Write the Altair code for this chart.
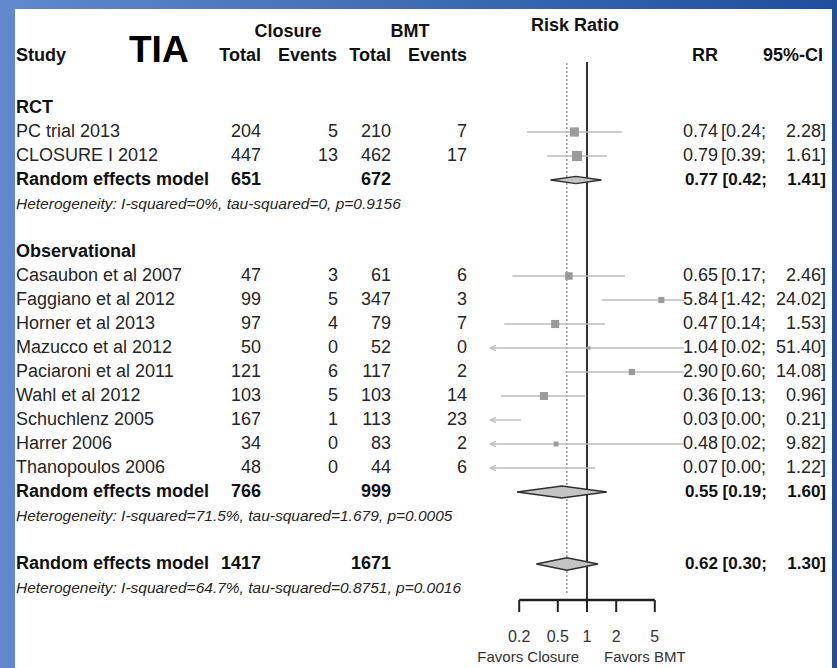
import altair as alt
import pandas as pd

# ---------------- study-level data ----------------
study = ["PC trial 2013", "CLOSURE I 2012",
         "Casaubon et al 2007", "Faggiano et al 2012", "Horner et al 2013",
         "Mazucco et al 2012", "Paciaroni et al 2011", "Wahl et al 2012",
         "Schuchlenz 2005", "Harrer 2006", "Thanopoulos 2006"]
design = ["RCT", "RCT"] + ["Observational"] * 9
closure_total = [204, 447, 47, 99, 97, 50, 121, 103, 167, 34, 48]
closure_events = [5, 13, 3, 5, 4, 0, 6, 5, 1, 0, 0]
bmt_total = [210, 462, 61, 347, 79, 52, 117, 103, 113, 83, 44]
bmt_events = [7, 17, 6, 3, 7, 0, 2, 14, 23, 2, 6]
rr = [0.74, 0.79, 0.65, 5.84, 0.47, 1.04, 2.90, 0.36, 0.03, 0.48, 0.07]
ci_low = [0.24, 0.39, 0.17, 1.42, 0.14, 0.02, 0.60, 0.13, 0.00, 0.02, 0.00]
ci_high = [2.28, 1.61, 2.46, 24.02, 1.53, 51.40, 14.08, 0.96, 0.21, 9.82, 1.22]
weight = [15.5, 19.0, 10.5, 7.0, 12.0, 2.0, 7.0, 12.0, 6.5, 4.5, 4.0]  # % weight (box area)

# ---------------- pooled estimates ----------------
groups = ["RCT", "Observational"]
pooled_closure_total = [651, 766, 1417]
pooled_bmt_total = [672, 999, 1671]
pooled_rr = [0.77, 0.55, 0.62]
pooled_low = [0.42, 0.19, 0.30]
pooled_high = [1.41, 1.60, 1.30]
heterogeneity = [
    "Heterogeneity: I-squared=0%, tau-squared=0, p=0.9156",
    "Heterogeneity: I-squared=71.5%, tau-squared=1.679, p=0.0005",
    "Heterogeneity: I-squared=64.7%, tau-squared=0.8751, p=0.0016",
]
axis_ticks = [0.2, 0.5, 1, 2, 5]
null_effect = [1.0]

X_MIN, X_MAX = 0.1, 10.0
FONT = "Liberation Sans"
TXT = "#262626"
BOLD_TXT = "#111111"
LINE_GREY = "#bdbdbd"
BOX_GREY = "#9b9b9b"
FS = 18
FS_BOLD_NUM = 17


def fmt(v):
    return f"{v:.2f}"


# ---------------- assemble table rows ----------------
rows = []
r = 0
for gi, g in enumerate(groups):
    rows.append(dict(row=r, label=g, kind="heading"))
    r += 1
    for i, s in enumerate(study):
        if design[i] != g:
            continue
        rows.append(dict(row=r, label=s, kind="study",
                         ctot=str(closure_total[i]), cev=str(closure_events[i]),
                         btot=str(bmt_total[i]), bev=str(bmt_events[i]),
                         rr_t=fmt(rr[i]), lo_t="[" + fmt(ci_low[i]) + ";",
                         hi_t=fmt(ci_high[i]) + "]",
                         est=rr[i], low=ci_low[i], high=ci_high[i], w=weight[i]))
        r += 1
    rows.append(dict(row=r, label="Random effects model", kind="pooled",
                     ctot=str(pooled_closure_total[gi]), btot=str(pooled_bmt_total[gi]),
                     rr_t=fmt(pooled_rr[gi]), lo_t="[" + fmt(pooled_low[gi]) + ";",
                     hi_t=fmt(pooled_high[gi]) + "]",
                     est=pooled_rr[gi], low=pooled_low[gi], high=pooled_high[gi]))
    r += 1
    rows.append(dict(row=r, label=heterogeneity[gi], kind="het"))
    r += 2
rows.append(dict(row=r, label="Random effects model", kind="pooled",
                 ctot=str(pooled_closure_total[2]), btot=str(pooled_bmt_total[2]),
                 rr_t=fmt(pooled_rr[2]), lo_t="[" + fmt(pooled_low[2]) + ";",
                 hi_t=fmt(pooled_high[2]) + "]",
                 est=pooled_rr[2], low=pooled_low[2], high=pooled_high[2]))
r += 1
rows.append(dict(row=r, label=heterogeneity[2], kind="het"))

table = pd.DataFrame(rows)
for c in ["ctot", "cev", "btot", "bev", "rr_t", "lo_t", "hi_t"]:
    table[c] = table[c].fillna("")
table["low_c"] = table["low"].clip(X_MIN, X_MAX)
table["high_c"] = table["high"].clip(X_MIN, X_MAX)

studies = table[table.kind == "study"].copy()
inside = studies[(studies.est >= X_MIN) & (studies.est <= X_MAX)]
left_cut = studies[studies.low < X_MIN].assign(edge=X_MIN)

# diamonds for pooled rows: closed outline lo -> top -> hi -> bottom -> lo
pooled_rows = table[table.kind == "pooled"].reset_index(drop=True)
half_h = [0.15, 0.25, 0.26]  # half height of each diamond, in rows
dia = []
for k, p in pooled_rows.iterrows():
    corners = [(p["low"], 0.0), (p["est"], -half_h[k]), (p["high"], 0.0),
               (p["est"], half_h[k]), (p["low"], 0.0)]
    for seq, (xv, dy) in enumerate(corners):
        dia.append(dict(dmd=k, seq=seq, dx=xv, drow=p["row"] + dy))
diamonds = pd.DataFrame(dia)

# ---------------- scales ----------------
x_scale = alt.Scale(type="log", domain=[X_MIN, X_MAX], range=[490, 684])
y_scale = alt.Scale(domain=[0, 20], range=[108, 588], zero=False, nice=False)
one = pd.DataFrame({"k": [0]})


def label(txt, x, y, size=FS, bold=True, align="left", color=BOLD_TXT, italic=False):
    return alt.Chart(one).mark_text(
        text=txt, align=align, baseline="middle", font=FONT, fontSize=size,
        fontWeight="bold" if bold else "normal",
        fontStyle="italic" if italic else "normal", color=color,
    ).encode(x=alt.value(x), y=alt.value(y))


def column(field, x, kinds, bold=False, align="right", size=FS, italic=False):
    return alt.Chart(table).transform_filter(
        alt.FieldOneOfPredicate(field="kind", oneOf=kinds)
    ).mark_text(
        align=align, baseline="middle", font=FONT, fontSize=size,
        fontWeight="bold" if bold else "normal",
        fontStyle="italic" if italic else "normal",
        color=BOLD_TXT if bold else TXT,
    ).encode(
        x=alt.value(x),
        y=alt.Y("row:Q", scale=y_scale, axis=None),
        text=alt.Text(f"{field}:N"),
    )


# ---------------- background frame ----------------
frame = alt.Chart(one).mark_rect(
    color=alt.Gradient(gradient="linear",
                       stops=[alt.GradientStop(color="#6189cc", offset=0),
                              alt.GradientStop(color="#1f4e9c", offset=1)],
                       x1=0, x2=1, y1=0, y2=0)
).encode(x=alt.value(0), x2=alt.value(837), y=alt.value(0), y2=alt.value(668))
panel = alt.Chart(one).mark_rect(color="white").encode(
    x=alt.value(15), x2=alt.value(832), y=alt.value(9), y2=alt.value(668))

# ---------------- headers ----------------
headers = [
    label("Study", 16, 56),
    label("TIA", 129, 51, size=37, color="#000000"),
    label("Closure", 288, 32, align="center"),
    label("BMT", 410, 32, align="center"),
    label("Total", 261, 56, align="right"),
    label("Events", 337, 56, align="right"),
    label("Total", 391, 56, align="right"),
    label("Events", 467, 56, align="right"),
    label("Risk Ratio", 575, 26, align="center"),
    label("RR", 718, 56, align="right"),
    label("95%-CI", 823, 56, align="right"),
]

# ---------------- text columns ----------------
texts = [
    column("label", 16, ["study"], align="left"),
    column("label", 16, ["heading", "pooled"], bold=True, align="left"),
    column("label", 16, ["het"], align="left", size=15.5, italic=True),
    column("ctot", 261, ["study"]),
    column("ctot", 261, ["pooled"], bold=True),
    column("cev", 338, ["study"]),
    column("btot", 391, ["study"]),
    column("btot", 391, ["pooled"], bold=True),
    column("bev", 467, ["study"]),
    column("rr_t", 718, ["study"]),
    column("rr_t", 718, ["pooled"], bold=True, size=FS_BOLD_NUM),
    column("lo_t", 766, ["study"]),
    column("lo_t", 767, ["pooled"], bold=True, size=FS_BOLD_NUM),
    column("hi_t", 826, ["study"]),
    column("hi_t", 826, ["pooled"], bold=True, size=FS_BOLD_NUM),
]

# ---------------- forest plot ----------------
ci_lines = alt.Chart(studies).mark_rule(color=LINE_GREY, strokeWidth=1.4).encode(
    x=alt.X("low_c:Q", scale=x_scale, axis=None),
    x2="high_c:Q",
    y=alt.Y("row:Q", scale=y_scale, axis=None),
)
arrow_l = alt.Chart(left_cut).mark_point(
    shape="M0,0L2,-0.9M0,0L2,0.9", filled=False, color=LINE_GREY,
    strokeWidth=1.3, size=36, opacity=1,
).encode(x=alt.X("edge:Q", scale=x_scale, axis=None),
         y=alt.Y("row:Q", scale=y_scale, axis=None))
boxes = alt.Chart(inside).mark_point(
    shape="square", filled=True, color=BOX_GREY, opacity=1,
).encode(
    x=alt.X("est:Q", scale=x_scale, axis=None),
    y=alt.Y("row:Q", scale=y_scale, axis=None),
    size=alt.Size("w:Q", scale=alt.Scale(domain=[0, 100], range=[0, 543]), legend=None),
)
diamond_marks = alt.Chart(diamonds).mark_line(
    fill="#c4c4c4", stroke="#2e2e2e", strokeWidth=1.3, interpolate="linear",
).encode(
    x=alt.X("dx:Q", scale=x_scale, axis=None),
    y=alt.Y("drow:Q", scale=y_scale, axis=None),
    detail="dmd:N",
    order="seq:Q",
)

ref_df = pd.DataFrame({"v": null_effect})
ref_line = alt.Chart(ref_df).mark_rule(color="#333333", strokeWidth=2).encode(
    x=alt.X("v:Q", scale=x_scale, axis=None), y=alt.value(62), y2=alt.value(600))
overall_df = pd.DataFrame({"v": [pooled_rr[2]]})
overall_line = alt.Chart(overall_df).mark_rule(
    color="#808080", strokeWidth=1.2, strokeDash=[2, 2]
).encode(x=alt.X("v:Q", scale=x_scale, axis=None), y=alt.value(63), y2=alt.value(594))

# ---------------- x axis ----------------
tick_df = pd.DataFrame({"t": axis_ticks, "lab": [str(t) for t in axis_ticks]})
axis_line = alt.Chart(pd.DataFrame({"a": [min(axis_ticks)], "b": [max(axis_ticks)]})).mark_rule(
    color="#222222", strokeWidth=2.6
).encode(x=alt.X("a:Q", scale=x_scale, axis=None), x2="b:Q", y=alt.value(600))
tick_marks = alt.Chart(tick_df).mark_rule(color="#222222", strokeWidth=2).encode(
    x=alt.X("t:Q", scale=x_scale, axis=None), y=alt.value(600), y2=alt.value(612))
tick_labels = alt.Chart(tick_df).mark_text(
    font=FONT, fontSize=16, color="#333333", baseline="middle", align="center"
).encode(x=alt.X("t:Q", scale=x_scale, axis=None), y=alt.value(637), text="lab:N")
favors = [
    label("Favors Closure", 579, 657, size=15, bold=False, align="right", color="#333333"),
    label("Favors BMT", 604, 657, size=15, bold=False, align="left", color="#333333"),
]

chart = alt.layer(
    frame, panel,
    overall_line, ref_line,
    ci_lines, arrow_l, boxes, diamond_marks,
    axis_line, tick_marks, tick_labels,
    *favors, *headers, *texts,
).properties(
    width=837, height=668, padding=0,
    autosize=alt.AutoSizeParams(type="none"),
).configure_view(stroke=None)

chart.save("out.html", embed_options={"renderer": "svg", "actions": False})
